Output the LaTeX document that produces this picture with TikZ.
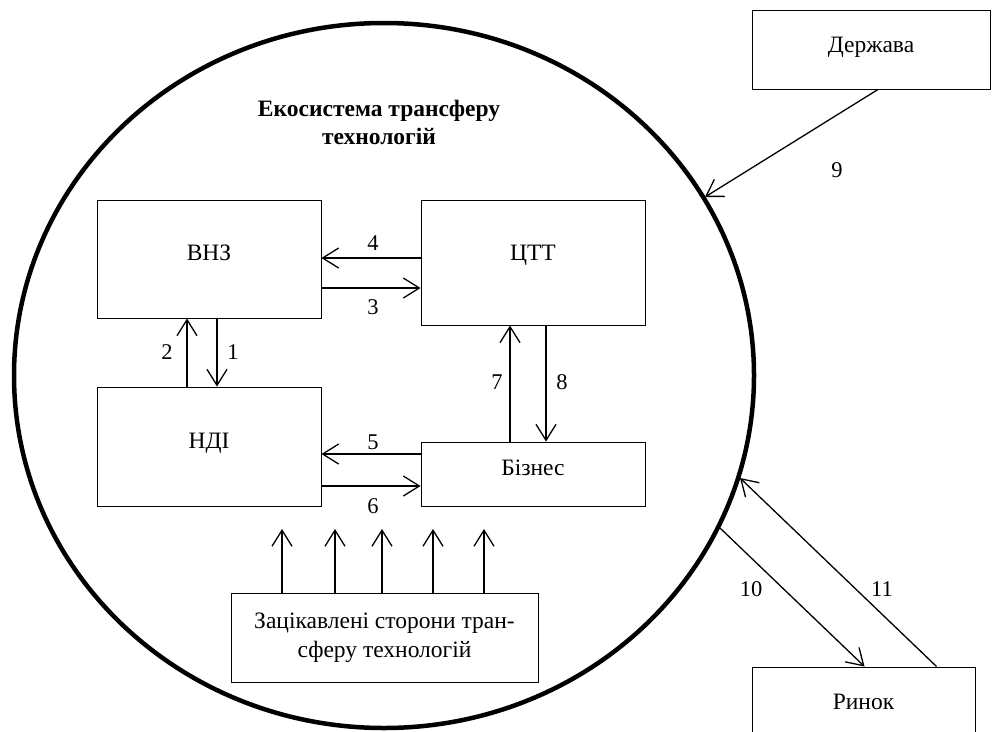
\documentclass[tikz,border=0pt]{standalone}
\usepackage{fontspec}
\setmainfont{Liberation Serif}
\usetikzlibrary{arrows.meta,calc}
\begin{document}
\begin{tikzpicture}[x=1pt,y=-1pt,
  box/.style={draw,line width=0.9pt,inner sep=0pt,text height=15pt,text depth=11.4pt,font=\fontsize{23.5}{28}\selectfont},
  arr/.style={line width=1.3pt,-{Straight Barb[length=16pt,width=20pt,line width=1.3pt]}},
  num/.style={inner sep=0pt,font=\fontsize{22.5}{27}\selectfont}]
\useasboundingbox (0,0) rectangle (992,731);
\draw[line width=4.5pt] (384,375.5) ellipse [x radius=370, y radius=352.5];
\coordinate (e9) at (705,197);
\coordinate (e10) at (720,528);
\coordinate (e11) at (740,478);
\node[inner sep=0pt,align=center,font=\bfseries\fontsize{23.5}{28}\selectfont] (title) at (379,122) {Екосистема трансферу\\технологій};
\node[box,minimum width=224pt,minimum height=118pt] (vnz) at (209,259) {ВНЗ};
\node[box,minimum width=224pt,minimum height=119pt] (ndi) at (209,446.5) {НДІ};
\node[box,minimum width=224pt,minimum height=125pt,text depth=18.4pt] (ctt) at (533,262.5) {ЦТТ};
\node[box,minimum width=224pt,minimum height=64pt] (biz) at (533,474) {Бізнес};
\node[draw,line width=0.9pt,inner sep=0pt,minimum width=307pt,minimum height=89pt,align=center,font=\fontsize{23.5}{29}\selectfont] (zs) at (384.5,637.5) {Зацікавлені сторони тран-\\сферу технологій};
\node[box,minimum width=238pt,minimum height=79pt,text depth=8.4pt] (derz) at (871,49.5) {Держава};
\node[box,minimum width=223pt,minimum height=73pt,text depth=2.4pt] (rynok) at (863.5,703.5) {Ринок};
% helper coordinates
\coordinate (y4) at (0,258);
\coordinate (y3) at (0,288);
\coordinate (y5) at (0,454);
\coordinate (y6) at (0,486);
\coordinate (x2) at (187,0);
\coordinate (x1) at (217,0);
\coordinate (x7) at (510,0);
\coordinate (x8) at (546,0);
\draw[arr,line width=1.8pt] (ctt.west |- y4) -- (vnz.east |- y4);
\draw[arr] (vnz.east |- y3) -- (ctt.west |- y3);
\draw[arr] (biz.west |- y5) -- (ndi.east |- y5);
\draw[arr,line width=1.5pt] (ndi.east |- y6) -- (biz.west |- y6);
\draw[arr] (ndi.north -| x2) -- (vnz.south -| x2);
\draw[arr] (vnz.south -| x1) -- (ndi.north -| x1);
\draw[arr] (biz.north -| x7) -- (ctt.south -| x7);
\draw[arr] (ctt.south -| x8) -- (biz.north -| x8);
\foreach \i/\x in {1/282,2/335,3/382,4/433,5/484}{
  \coordinate (t\i) at (\x,529);
  \draw[arr] (zs.north -| t\i) -- (t\i);
}
\draw[arr] ($(derz.south)+(7,0)$) -- (e9);
\draw[arr] (e10) -- ($(rynok.north west)+(113,0)$);
\draw[arr] ($(rynok.north west)+(185,0)$) -- (e11);
\node[num] (n1) at (233,352) {1};
\node[num] (n2) at (167,352) {2};
\node[num] (n3) at (373,307) {3};
\node[num] (n4) at (373,243) {4};
\node[num] (n5) at (373,442) {5};
\node[num] (n6) at (373,506) {6};
\node[num] (n7) at (497,382) {7};
\node[num] (n8) at (562,382) {8};
\node[num] (n9) at (837,170) {9};
\node[num] (n10) at (751,589) {10};
\node[num] (n11) at (882,589) {11};
\end{tikzpicture}
\end{document}
